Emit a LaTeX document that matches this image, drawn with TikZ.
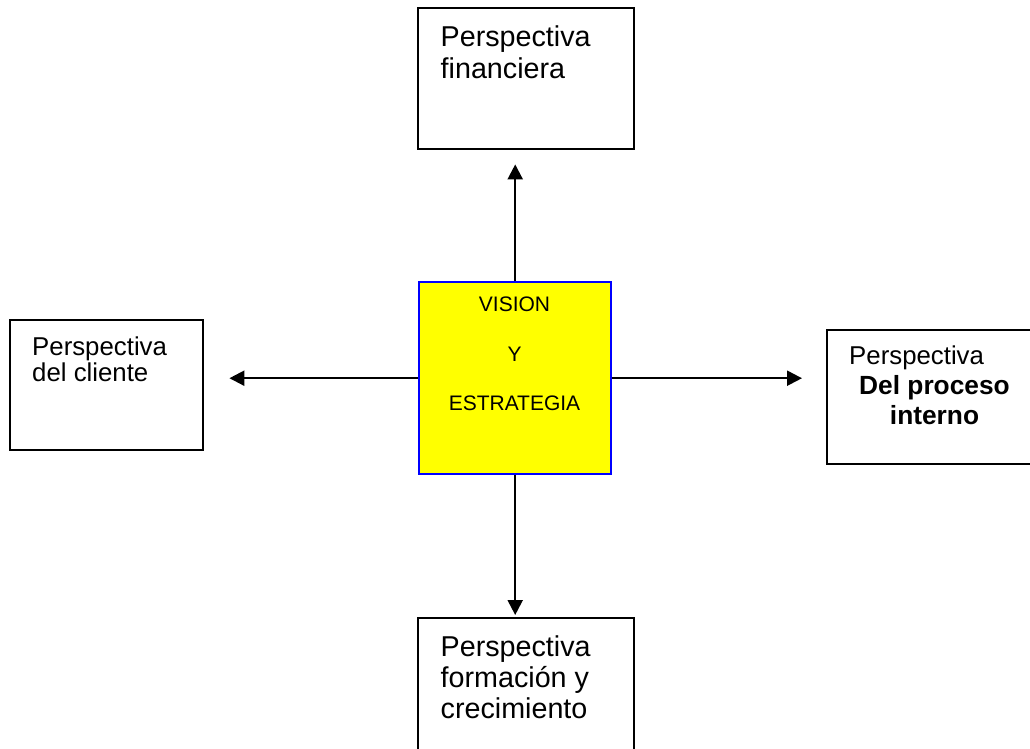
\documentclass[tikz,border=0pt]{standalone}
\usepackage{fontspec}
\setmainfont{Liberation Sans}
\usetikzlibrary{arrows.meta}
\definecolor{amarillo}{RGB}{255,255,0}
\definecolor{azul}{RGB}{0,0,255}

\begin{document}
\begin{tikzpicture}[x=1pt, y=-1pt, >={Triangle[length=15pt,width=15pt]}, line width=2.4pt,
    caja/.style={draw, anchor=north west, inner sep=0pt},
    txt/.style={anchor=base west, inner sep=0pt},
    flecha/.style={->, line width=2.2pt}]
    \useasboundingbox (0,0) rectangle (1030,748);

    % cajas de las perspectivas
    \node[caja, minimum width=216pt, minimum height=141pt] (fin) at (417,7) {};
    \node[caja, minimum width=193pt, minimum height=130pt] (cli) at (9,319) {};
    \node[caja, minimum width=220pt, minimum height=134pt] (pro) at (826,329) {};
    \node[caja, minimum width=216pt, minimum height=150pt] (form) at (417,617) {};

    % caja central
    \node[caja, draw=azul, fill=amarillo, minimum size=192pt] (vis) at (418,281) {};

    % textos
    \node[txt, font=\fontsize{28.7}{34}\selectfont] (fin1) at (439.5,46.7) {Perspectiva};
    \node[txt, font=\fontsize{28.7}{34}\selectfont] (fin2) at (439.5,78) {financiera};

    \node[txt, font=\fontsize{25.8}{30}\selectfont] (cli1) at (31,355.7) {Perspectiva};
    \node[txt, font=\fontsize{25.8}{30}\selectfont] (cli2) at (31,381.7) {del cliente};

    \node[txt, font=\fontsize{25.8}{30}\selectfont] (pro1) at (848,364) {Perspectiva};
    \node[txt, anchor=base, font=\fontsize{26.3}{30}\selectfont\bfseries] (pro2) at (934.5,394) {Del proceso};
    \node[txt, anchor=base, font=\fontsize{26.3}{30}\selectfont\bfseries] (pro3) at (934.5,424) {interno};

    \node[txt, font=\fontsize{28.7}{34}\selectfont] (form1) at (439.5,656) {Perspectiva};
    \node[txt, font=\fontsize{28.7}{34}\selectfont] (form2) at (439.5,687) {formación y};
    \node[txt, font=\fontsize{28.7}{34}\selectfont] (form3) at (439.5,718) {crecimiento};

    \node[txt, anchor=base, font=\fontsize{21}{25}\selectfont] (vis1) at (514.5,311.7) {VISION};
    \node[txt, anchor=base, font=\fontsize{21}{25}\selectfont] (vis2) at (514.5,361) {Y};
    \node[txt, anchor=base, font=\fontsize{21}{25}\selectfont] (vis3) at (514.5,410) {ESTRATEGIA};

    % flechas
    \draw[flecha, shorten >=14pt] (vis.north) -- (vis.north |- fin.south);
    \draw[flecha, shorten >=25pt] (vis.west) -- (vis.west -| cli.east);
    \draw[flecha, shorten >=24pt] (vis.east) -- (vis.east -| pro.west);
    \draw[flecha, shorten >=2pt] (vis.south) -- (vis.south |- form.north);
\end{tikzpicture}
\end{document}
